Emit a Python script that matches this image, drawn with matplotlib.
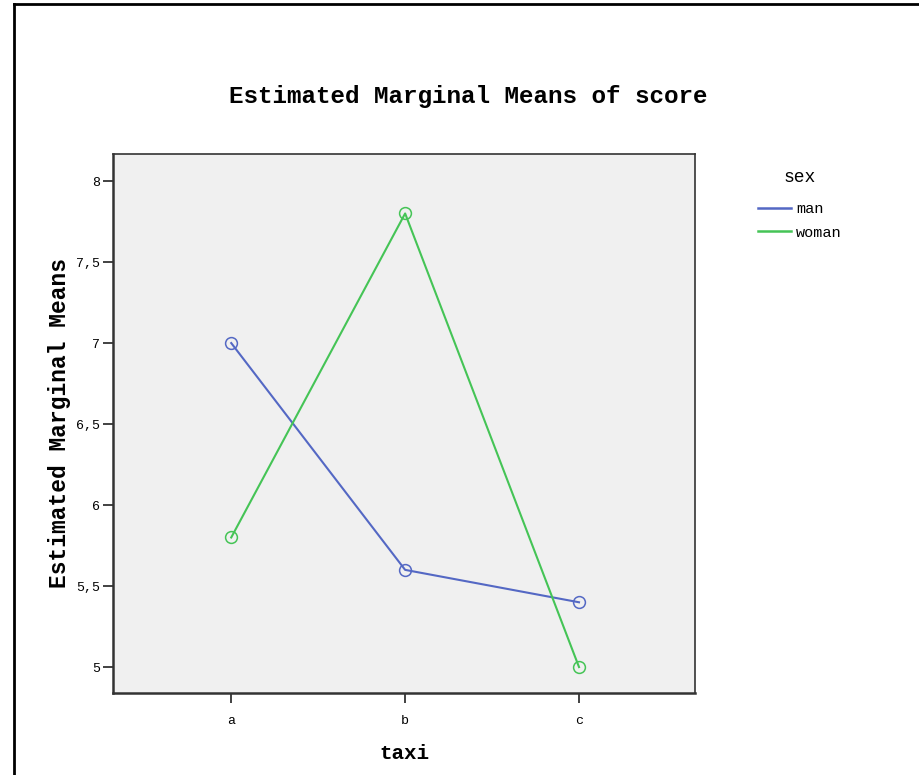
import matplotlib
matplotlib.use("Agg")
import matplotlib.pyplot as plt
from matplotlib.lines import Line2D

# data
taxi = ['a', 'b', 'c']
man = [7.0, 5.6, 5.4]
woman = [5.8, 7.8, 5.0]
yticks = [5, 5.5, 6, 6.5, 7, 7.5, 8]
ytick_labels = ['5', '5,5', '6', '6,5', '7', '7,5', '8']

blue = '#5468c4'
green = '#45c456'
mono = 'Liberation Mono'

fig = plt.figure(figsize=(9.2, 7.75), dpi=100)
ax = fig.add_axes([113/920, 1-693/775, 582/920, 539/775])
ax.set_facecolor('#f0f0f0')

x = list(range(len(taxi)))
ax.plot(x, man, color=blue, lw=1.5, marker='o', mfc='none', mec=blue, ms=8.5, mew=1.1)
ax.plot(x, woman, color=green, lw=1.5, marker='o', mfc='none', mec=green, ms=8.5, mew=1.1)

ax.set_xlim(-0.68, 2.667)
ax.set_ylim(4.84, 8.167)
ax.set_xticks(x)
ax.set_xticklabels(taxi, fontfamily=mono, fontsize=9.5)
ax.set_yticks(yticks)
ax.set_yticklabels(ytick_labels, fontfamily=mono, fontsize=9.5)
ax.tick_params(axis='both', direction='out', length=7, width=1.3, color='#333333', pad=2)
ax.tick_params(axis='x', pad=9)
for s in ax.spines.values():
    s.set_color('#333333')
    s.set_linewidth(1.2)
ax.spines['left'].set_linewidth(1.8)
ax.spines['bottom'].set_linewidth(1.8)

ax.set_xlabel('taxi', fontfamily=mono, fontsize=15, fontweight='bold', labelpad=12)
ax.set_ylabel('Estimated Marginal Means', fontfamily=mono, fontsize=16.5, fontweight='bold', labelpad=4)

fig.text(468/920, 1-96/775, 'Estimated Marginal Means of score', fontfamily=mono,
         fontsize=17.5, fontweight='bold', ha='center', va='center')

# legend
handles = [Line2D([], [], color=blue, lw=1.8), Line2D([], [], color=green, lw=1.8)]
leg = fig.legend(handles, ['man', 'woman'], title='sex', loc='upper left',
                 bbox_to_anchor=(744/920, 1-155/775), frameon=False,
                 prop={'family': mono, 'size': 11}, handlelength=2.2,
                 handletextpad=0.3, labelspacing=0.6)
leg.get_title().set_fontfamily(mono)
leg.get_title().set_fontsize(13)
leg._legend_box.sep = 12

# outer frame (top and left edges visible)
fig.add_artist(Line2D([14/920, 14/920], [0, 1-4/775], transform=fig.transFigure, color='black', lw=2))
fig.add_artist(Line2D([14/920, 1], [1-4/775, 1-4/775], transform=fig.transFigure, color='black', lw=2))

fig.savefig('out.png', dpi=100)
